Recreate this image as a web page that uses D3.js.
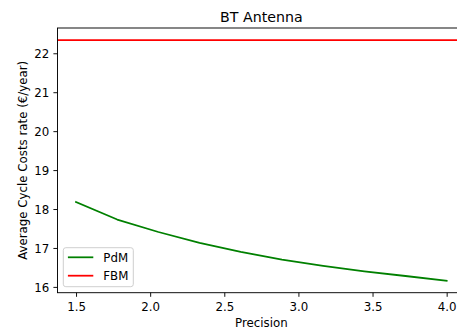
<!DOCTYPE html>
<html>
<head>
<meta charset="utf-8">
<script src="https://cdn.jsdelivr.net/npm/d3@7"></script>
<style>
  html, body { margin: 0; padding: 0; background: #fff; }
  svg { display: block; font-family: "DejaVu Sans", sans-serif; }
</style>
</head>
<body>
<svg id="chart" width="457" height="334"></svg>
<script>
// Precision levels evaluated
const precision = [1.5, 1.7778, 2.0556, 2.3333, 2.6111, 2.8889, 3.1667, 3.4444, 3.7222, 4.0];
// Average cycle cost rate for predictive maintenance
const pdmCost = [18.18, 17.73, 17.41, 17.13, 16.90, 16.70, 16.54, 16.40, 16.28, 16.16];
// Fixed-base maintenance cost rate (constant)
const fbmCost = 22.34;
const xTicks = [1.5, 2.0, 2.5, 3.0, 3.5, 4.0];
const yTicks = [16, 17, 18, 19, 20, 21, 22];

const svg = d3.select("#chart");
const fs = 11.8;
const plot = { left: 57.5, top: 28, right: 465.2, bottom: 292.7 };

// axis limits with 5% padding around the data
const xMin = d3.min(precision), xMax = d3.max(precision);
const xPad = (xMax - xMin) * 0.05;
const yLo = Math.min(d3.min(pdmCost), fbmCost), yHi = Math.max(d3.max(pdmCost), fbmCost);
const yPad = (yHi - yLo) * 0.05;

const x = d3.scaleLinear().domain([xMin - xPad, xMax + xPad]).range([plot.left, plot.right]);
const y = d3.scaleLinear().domain([yLo - yPad, yHi + yPad]).range([plot.bottom, plot.top]);

svg.append("defs").append("clipPath").attr("id", "clip")
  .append("rect").attr("x", plot.left).attr("y", plot.top)
  .attr("width", plot.right - plot.left).attr("height", plot.bottom - plot.top);

const g = svg.append("g").attr("clip-path", "url(#clip)");

const line = d3.line().x(d => x(d[0])).y(d => y(d[1]));

g.append("path")
  .datum(precision.map((p, i) => [p, pdmCost[i]]))
  .attr("d", line)
  .attr("fill", "none").attr("stroke", "green").attr("stroke-width", 1.77)
  .attr("stroke-linejoin", "round").attr("stroke-linecap", "square");

g.append("path")
  .datum([[xMin - xPad, fbmCost], [xMax + xPad, fbmCost]])
  .attr("d", line)
  .attr("fill", "none").attr("stroke", "red").attr("stroke-width", 1.77);

// axes
const xAxis = d3.axisBottom(x).tickValues(xTicks).tickFormat(d3.format(".1f"))
  .tickSizeInner(4.1).tickSizeOuter(0).tickPadding(4.1);
const yAxis = d3.axisLeft(y).tickValues(yTicks).tickFormat(d3.format("d"))
  .tickSizeInner(4.1).tickSizeOuter(0).tickPadding(4.1);

const gx = svg.append("g").attr("transform", `translate(0,${plot.bottom})`).call(xAxis);
const gy = svg.append("g").attr("transform", `translate(${plot.left},0)`).call(yAxis);
[gx, gy].forEach(a => {
  a.select(".domain").remove();
  a.selectAll(".tick line").attr("stroke", "#000").attr("stroke-width", 0.94);
  a.selectAll(".tick text").attr("fill", "#000").attr("font-size", fs)
    .attr("font-family", "DejaVu Sans, sans-serif");
});
gx.selectAll(".tick text").attr("dy", null).attr("y", 18.8);
gy.selectAll(".tick text").attr("dy", "0.36em");

// spines
svg.append("rect")
  .attr("x", plot.left).attr("y", plot.top)
  .attr("width", plot.right - plot.left).attr("height", plot.bottom - plot.top)
  .attr("fill", "none").attr("stroke", "#000").attr("stroke-width", 0.94);

// title and axis labels
svg.append("text").attr("x", (plot.left + plot.right) / 2).attr("y", 22)
  .attr("text-anchor", "middle").attr("font-size", 14.2).attr("fill", "#000")
  .text("BT Antenna");
svg.append("text").attr("x", (plot.left + plot.right) / 2).attr("y", 326.5)
  .attr("text-anchor", "middle").attr("font-size", fs).attr("fill", "#000")
  .text("Precision");
svg.append("text")
  .attr("transform", `translate(27,${(plot.top + plot.bottom) / 2}) rotate(-90)`)
  .attr("text-anchor", "middle").attr("font-size", fs).attr("fill", "#000")
  .text("Average Cycle Costs rate (€/year)");

// legend
const legendItems = [{ name: "PdM", color: "green" }, { name: "FBM", color: "red" }];
const lg = svg.append("g").attr("transform", "translate(63.3,247.7)");
lg.append("rect").attr("width", 70).attr("height", 39).attr("rx", 2.5)
  .attr("fill", "#fff").attr("fill-opacity", 0.8)
  .attr("stroke", "#cccccc").attr("stroke-width", 0.94);
legendItems.forEach((d, i) => {
  const cy = 9.6 + i * 18.4;
  lg.append("line").attr("x1", 4.6).attr("x2", 30).attr("y1", cy).attr("y2", cy)
    .attr("stroke", d.color).attr("stroke-width", 1.77);
  lg.append("text").attr("x", 40).attr("y", cy).attr("dy", "0.36em")
    .attr("font-size", fs).attr("fill", "#000").text(d.name);
});
</script>
</body>
</html>
